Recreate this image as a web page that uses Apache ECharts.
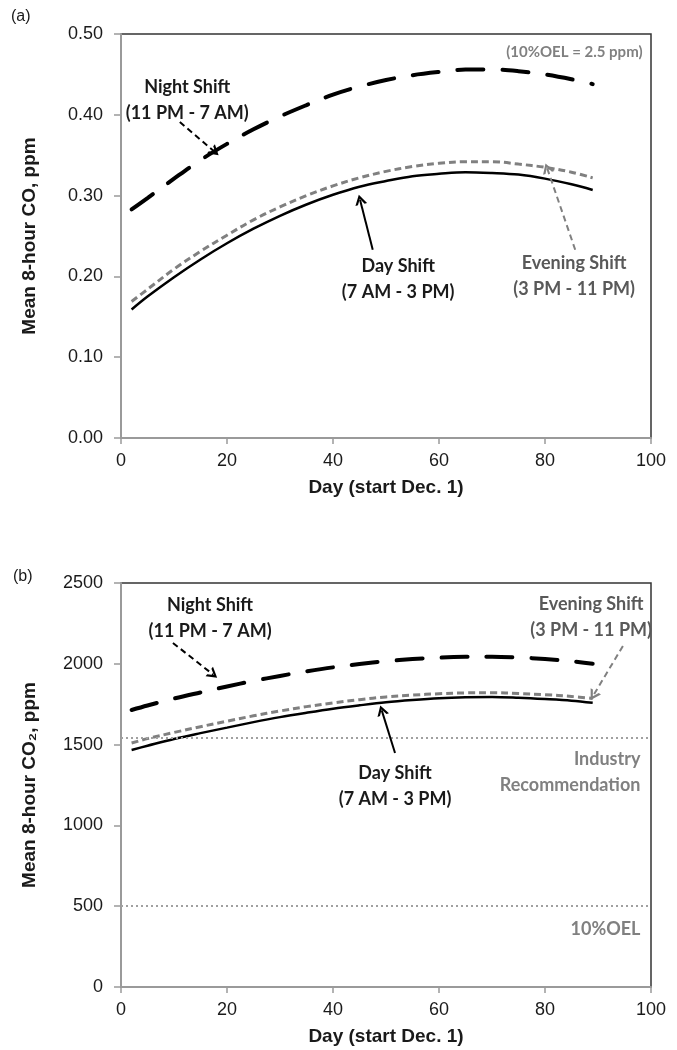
<!DOCTYPE html>
<html>
<head>
<meta charset="utf-8">
<script src="https://cdn.jsdelivr.net/npm/echarts@6/dist/echarts.min.js"></script>
<style>
html,body{margin:0;padding:0;background:#fff;}
#chart{width:677px;height:1050px;}
</style>
</head>
<body>
<div id="chart"></div>
<script>
// ---- data ----
const days = [2, 5, 10, 15, 20, 25, 30, 35, 40, 45, 50, 55, 60, 65, 70, 75, 80, 85, 89];

// Panel (a): mean 8-hour CO, ppm
const coDay     = [0.159, 0.175, 0.199, 0.221, 0.241, 0.259, 0.275, 0.289, 0.301, 0.311, 0.318, 0.324, 0.327, 0.329, 0.328, 0.326, 0.321, 0.314, 0.307];
const coEvening = [0.169, 0.184, 0.209, 0.231, 0.251, 0.270, 0.286, 0.300, 0.312, 0.322, 0.330, 0.336, 0.340, 0.342, 0.342, 0.339, 0.335, 0.329, 0.322];
const coNight   = [0.283, 0.297, 0.321, 0.344, 0.364, 0.382, 0.398, 0.412, 0.425, 0.435, 0.443, 0.449, 0.453, 0.456, 0.456, 0.454, 0.450, 0.444, 0.438];

// Panel (b): mean 8-hour CO2, ppm
const co2Day     = [1467, 1493, 1535, 1571, 1605, 1639, 1670, 1697, 1722, 1743, 1762, 1776, 1787, 1793, 1795, 1790, 1782, 1772, 1759];
const co2Evening = [1510, 1537, 1575, 1611, 1645, 1678, 1708, 1735, 1758, 1778, 1795, 1806, 1815, 1820, 1821, 1816, 1809, 1798, 1786];
const co2Night   = [1714, 1742, 1785, 1823, 1860, 1894, 1925, 1953, 1978, 1999, 2016, 2029, 2038, 2043, 2044, 2039, 2030, 2016, 2000];

// reference levels for CO2
const industryRecommendation = 1540;
const oel10 = 500;

// axis ticks
const xTicks = [0, 20, 40, 60, 80, 100];
const coTicks = ['0.00', '0.10', '0.20', '0.30', '0.40', '0.50'];
const co2Ticks = ['0', '500', '1000', '1500', '2000', '2500'];

// ---- styling ----
const CHEVRON = 'path://M0,10 L6,0 L12,10 L9.4,10 L6,4.2 L2.6,10 Z';
const TICK_FONT = 'Liberation Sans, Arial, sans-serif';
const ANN_FONT = 'Lato, "Open Sans", sans-serif';

function pairs(xs, ys){ return xs.map((x,i)=>[x, ys[i]]); }

function textPoint(text, coord, color, pos, size){
  return {
    coord: coord, symbol: 'circle', symbolSize: 1,
    itemStyle: {color: 'rgba(0,0,0,0)'},
    label: {
      show: true, position: pos || 'inside', distance: 0,
      formatter: text, color: color,
      fontFamily: ANN_FONT, fontWeight: 'bold', fontSize: size || 18, lineHeight: 26,
      align: pos === 'left' ? 'right' : 'center'
    }
  };
}

function arrow(from, to){
  return [{coord: from}, {coord: to}];
}

function xAxisCfg(gi){
  return {
    gridIndex: gi, type: 'value', min: xTicks[0], max: xTicks[xTicks.length-1], interval: xTicks[1]-xTicks[0],
    name: 'Day (start Dec. 1)', nameLocation: 'middle', nameGap: 40,
    nameTextStyle: {fontFamily: TICK_FONT, fontWeight: 'bold', fontSize: 19, color: '#1a1a1a'},
    axisLine: {show: true, onZero: false, lineStyle: {color: '#9a9a9a', width: 2}},
    axisTick: {show: true, length: 6, lineStyle: {color: '#9a9a9a', width: 1.5}},
    axisLabel: {fontFamily: TICK_FONT, fontSize: 18, color: '#1a1a1a', margin: 14},
    splitLine: {show: false}
  };
}
function yAxisCfg(gi, ticks, name){
  const vals = ticks.map(Number);
  return {
    gridIndex: gi, type: 'value', min: vals[0], max: vals[vals.length-1], interval: vals[1]-vals[0],
    name: name, nameLocation: 'middle', nameGap: 82,
    nameTextStyle: {fontFamily: TICK_FONT, fontWeight: 'bold', fontSize: 19, color: '#1a1a1a'},
    axisLine: {show: true, onZero: false, lineStyle: {color: '#9a9a9a', width: 2}},
    axisTick: {show: true, length: 7, lineStyle: {color: '#9a9a9a', width: 1.5}},
    axisLabel: {fontFamily: TICK_FONT, fontSize: 18, color: '#1a1a1a', margin: 18,
      formatter: v => { const i = vals.findIndex(t => Math.abs(t - v) < 1e-9); return i >= 0 ? ticks[i] : ''; }},
    splitLine: {show: false}
  };
}

const nightStyle = {color: '#000', width: 4, type: [26, 19], cap: 'round'};
const eveStyle = {color: '#808080', width: 3, type: [7, 4]};
const dayStyle = {color: '#000', width: 2.5};
const SMOOTH = 0.35;

const arrowBase = {symbol: ['none', CHEVRON], symbolSize: [12, 10], silent: true, label: {show: false}, animation: false};

const chart = echarts.init(document.getElementById('chart'), null, {renderer: 'canvas'});
chart.setOption({
  animation: false,
  backgroundColor: '#fff',
  title: [
    {text: '(a)', left: 6, top: 4, textStyle: {fontFamily: TICK_FONT, fontWeight: 'normal', fontSize: 16, color: '#1a1a1a'}},
    {text: '(b)', left: 8, top: 564, textStyle: {fontFamily: TICK_FONT, fontWeight: 'normal', fontSize: 16, color: '#1a1a1a'}}
  ],
  grid: [
    {left: 121, top: 34, width: 530, height: 404, show: true, borderColor: '#333', borderWidth: 1.5, backgroundColor: 'transparent'},
    {left: 121, top: 583, width: 530, height: 404, show: true, borderColor: '#333', borderWidth: 1.5, backgroundColor: 'transparent'}
  ],
  xAxis: [xAxisCfg(0), xAxisCfg(1)],
  yAxis: [
    yAxisCfg(0, coTicks, 'Mean 8-hour CO, ppm'),
    yAxisCfg(1, co2Ticks, 'Mean 8-hour CO\u2082, ppm')
  ],
  series: [
    // ----- panel (a) -----
    {
      name: 'Day Shift CO', type: 'line', xAxisIndex: 0, yAxisIndex: 0,
      data: pairs(days, coDay), smooth: SMOOTH, showSymbol: false, lineStyle: dayStyle, z: 3,
      markLine: Object.assign({}, arrowBase, {lineStyle: {color: '#000', width: 2, type: 'solid'}, data: [arrow([47.5, 0.233], [45.1, 0.295])]}),
      markPoint: {silent: true, data: [textPoint('Day Shift\n(7 AM - 3 PM)', [52.3, 0.196], '#1a1a1a')]}
    },
    {
      name: 'Evening Shift CO', type: 'line', xAxisIndex: 0, yAxisIndex: 0,
      data: pairs(days, coEvening), smooth: SMOOTH, showSymbol: false, lineStyle: eveStyle, z: 4,
      markLine: Object.assign({}, arrowBase, {lineStyle: {color: '#808080', width: 2, type: [6, 4]}, data: [arrow([85.7, 0.233], [80.4, 0.334])]}),
      markPoint: {silent: true, data: [
        textPoint('Evening Shift\n(3 PM - 11 PM)', [85.5, 0.200], '#595959'),
        textPoint('(10%OEL = 2.5 ppm)', [98.5, 0.478], '#808080', 'left', 15)
      ]}
    },
    {
      name: 'Night Shift CO', type: 'line', xAxisIndex: 0, yAxisIndex: 0,
      data: pairs(days, coNight), smooth: SMOOTH, showSymbol: false, lineStyle: nightStyle, z: 3,
      markLine: Object.assign({}, arrowBase, {lineStyle: {color: '#000', width: 2, type: [6, 4]}, data: [arrow([11.1, 0.391], [17.7, 0.354])]}),
      markPoint: {silent: true, data: [textPoint('Night Shift\n(11 PM - 7 AM)', [12.5, 0.418], '#1a1a1a')]}
    },
    // ----- panel (b) -----
    {
      name: 'Reference levels', type: 'line', xAxisIndex: 1, yAxisIndex: 1, data: [],
      markLine: {
        silent: true, symbol: ['none', 'none'], label: {show: false},
        lineStyle: {color: '#a0a0a0', width: 2, type: [2, 3]},
        data: [{yAxis: industryRecommendation}, {yAxis: oel10}]
      },
      markPoint: {silent: true, data: [
        textPoint('Industry\nRecommendation', [98.1, 1330], '#808080', 'left'),
        textPoint('10%OEL', [98.1, 359], '#808080', 'left')
      ]}
    },
    {
      name: 'Day Shift CO2', type: 'line', xAxisIndex: 1, yAxisIndex: 1,
      data: pairs(days, co2Day), smooth: SMOOTH, showSymbol: false, lineStyle: dayStyle, z: 3,
      markLine: Object.assign({}, arrowBase, {lineStyle: {color: '#000', width: 2, type: 'solid'}, data: [arrow([51.7, 1448], [49.2, 1712])]}),
      markPoint: {silent: true, data: [textPoint('Day Shift\n(7 AM - 3 PM)', [51.7, 1241], '#1a1a1a')]}
    },
    {
      name: 'Evening Shift CO2', type: 'line', xAxisIndex: 1, yAxisIndex: 1,
      data: pairs(days, co2Evening), smooth: SMOOTH, showSymbol: false, lineStyle: eveStyle, z: 4,
      markLine: Object.assign({}, arrowBase, {lineStyle: {color: '#808080', width: 2, type: [6, 4]}, data: [arrow([94.7, 2110], [89.1, 1803])]}),
      markPoint: {silent: true, data: [textPoint('Evening Shift\n(3 PM - 11 PM)', [88.7, 2286], '#595959')]}
    },
    {
      name: 'Night Shift CO2', type: 'line', xAxisIndex: 1, yAxisIndex: 1,
      data: pairs(days, co2Night), smooth: SMOOTH, showSymbol: false, lineStyle: nightStyle, z: 3,
      markLine: Object.assign({}, arrowBase, {lineStyle: {color: '#000', width: 2, type: [6, 4]}, data: [arrow([9.8, 2129], [17.4, 1933])]}),
      markPoint: {silent: true, data: [textPoint('Night Shift\n(11 PM - 7 AM)', [16.8, 2283], '#1a1a1a')]}
    }
  ]
});
</script>
</body>
</html>
